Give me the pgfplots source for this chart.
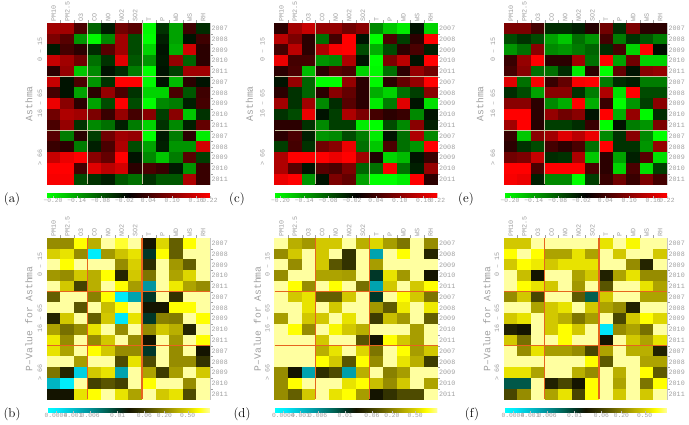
\documentclass[border=0pt]{standalone}
\usepackage{fontspec}
\usepackage{pgfplots}
\usepackage{pgfplotstable}
\pgfplotsset{compat=1.18}
\newfontfamily\monofont{Liberation Mono}
\definecolor{labgray}{RGB}{160,160,160}
\definecolor{sepA}{RGB}{200,195,160}
\definecolor{sepB}{RGB}{230,100,30}
\newcommand\tickfont{\monofont\fontsize{6.7}{7}\selectfont}
\newcommand\cbfont{\monofont\fontsize{6.3}{7}\selectfont}
\newcommand\ttlfont{\monofont\fontsize{9.7}{11}\selectfont}
\newcommand\panfont{\fontsize{13}{15}\selectfont}

\pgfdeclareplotmark{cell}{\pgfpathrectangle{\pgfpoint{-6.95pt}{-5.5pt}}{\pgfpoint{13.9pt}{11pt}}\pgfusepathqfill}

% correlation coefficients (rows: 0-15, 16-65, >66 groups x 2007..2011)
\pgfplotstableread{
PM10 PM25 O3 CO NO NO2 SO2 T P WD WS RH
0.12 0.12 0.05 -0.09 -0.03 0.08 0.06 -0.21 -0.05 -0.14 0.04 -0.045
0.09 0.06 -0.13 -0.21 -0.12 0.12 -0.07 -0.22 -0.035 -0.14 -0.025 0.04
-0.03 0.045 0.025 -0.045 0.06 0.12 -0.07 -0.18 -0.025 -0.15 0.16 0.025
0.15 0.12 0.08 -0.10 -0.05 0.17 -0.08 -0.13 -0.03 0.11 -0.09 0.025
0.025 0.11 -0.17 -0.12 -0.025 -0.045 -0.11 -0.23 -0.025 -0.06 0.12 0.12
0.15 -0.025 0.05 -0.13 -0.05 0.2 0.22 -0.21 -0.025 -0.16 0.025 -0.025
0.045 -0.025 -0.14 0.025 0.11 0.05 -0.05 -0.18 -0.18 0.05 -0.08 0.04
0.18 0.1 0.025 -0.14 -0.07 0.2 -0.07 -0.22 -0.12 -0.11 -0.035 0.045
0.08 0.13 0.12 0.09 0.035 0.11 0.045 0.1 -0.06 0.1 -0.17 -0.05
0.05 0.11 -0.05 -0.12 -0.1 -0.035 -0.11 -0.18 -0.05 -0.12 -0.035 0.07
0.06 -0.11 0.025 -0.06 0.08 0.12 0.11 -0.22 -0.03 -0.11 0.025 -0.2
0.035 0.025 -0.11 -0.035 0.05 0.13 -0.07 -0.14 -0.035 -0.13 -0.13 0.16
0.15 0.18 0.2 0.1 0.07 0.21 -0.025 -0.12 -0.17 -0.11 0.06 -0.06
0.23 0.21 0.045 0.17 0.14 0.16 0.025 0.05 0.035 -0.03 -0.13 0.035
0.19 0.19 -0.07 -0.05 -0.035 -0.08 -0.1 -0.05 -0.08 -0.08 0.13 0.035
}\dataA
\pgfplotstableread{
PM10 PM25 O3 CO NO NO2 SO2 T P WD WS RH
0.025 0.12 0.15 0.11 0.11 0.08 0.1 -0.12 -0.17 -0.2 -0.025 -0.18
0.14 0.09 0.025 -0.1 0.045 0.21 -0.025 -0.22 0.05 -0.06 0.025 0.21
0.045 0.14 0.025 0.13 0.19 0.21 -0.07 -0.15 -0.07 0.025 0.05 -0.035
0.18 0.045 0.045 -0.13 -0.12 0.13 -0.025 -0.22 0.09 0.14 -0.025 0.22
0.025 0.05 -0.16 0.025 0.06 0.05 -0.18 -0.21 -0.1 0.025 0.11 0.08
-0.025 0.11 -0.09 -0.23 -0.23 0.11 0.025 -0.21 0.025 0.07 0.11 0.21
0.025 -0.05 -0.09 0.025 0.1 0.07 0.025 -0.15 -0.18 -0.1 -0.06 0.1
0.12 -0.05 0.12 -0.12 -0.045 0.06 0.025 -0.2 -0.11 0.17 -0.025 -0.19
-0.05 -0.07 0.18 -0.025 -0.06 0.13 0.09 0.045 0.025 0.035 -0.12 -0.025
0.025 0.025 -0.05 -0.12 -0.06 -0.06 -0.2 -0.23 -0.07 -0.12 0.1 -0.035
0.025 0.05 -0.035 -0.13 -0.12 -0.07 -0.11 -0.2 -0.025 -0.1 0.13 -0.12
-0.06 0.045 -0.05 0.08 0.1 0.18 -0.1 -0.17 0.05 -0.1 -0.13 0.21
0.13 0.22 0.22 0.23 0.18 0.22 0.12 0.015 -0.18 -0.16 -0.025 0.035
0.13 0.06 -0.025 0.06 0.05 0.09 -0.09 -0.1 0.19 -0.1 -0.035 0.11
0.18 0.2 -0.13 -0.025 0.09 0.07 -0.14 -0.23 -0.22 -0.2 0.21 0.025
}\dataC
\pgfplotstableread{
PM10 PM25 O3 CO NO NO2 SO2 T P WD WS RH
0.09 0.09 0.045 -0.045 -0.045 -0.035 0.02 0.08 -0.045 0.09 0.025 0.025
-0.07 -0.05 -0.07 -0.14 -0.17 -0.1 -0.13 0.045 -0.11 -0.05 -0.08 -0.11
-0.13 -0.1 0.1 -0.12 -0.13 -0.11 -0.09 -0.045 0.045 -0.18 0.22 -0.02
0.035 0.11 0.22 0.025 0.025 0.12 -0.1 0.22 -0.14 0.08 -0.18 -0.18
0.045 0.1 -0.1 -0.1 -0.045 -0.2 0.025 -0.23 0.07 -0.025 0.1 0.11
0.17 -0.1 0.19 0.035 0.07 0.19 0.22 -0.11 -0.045 -0.035 -0.11 -0.11
-0.045 -0.07 -0.14 0.1 0.1 -0.05 -0.11 0.13 -0.19 0.22 -0.07 -0.07
0.1 0.1 0.025 -0.12 -0.15 0.21 -0.15 0.035 -0.23 -0.13 -0.06 0.1
0.23 0.23 0.025 0.11 0.08 0.1 -0.025 0.22 -0.15 0.11 -0.21 -0.045
0.12 0.2 0.02 -0.06 -0.06 -0.045 0.035 -0.23 -0.025 -0.11 -0.13 0.09
0.035 -0.17 0.1 0.12 0.17 0.14 0.18 -0.12 -0.05 0.1 -0.12 -0.23
0.025 -0.05 -0.07 0.045 0.025 0.05 -0.1 0.21 -0.05 -0.05 -0.13 0.11
0.08 0.09 0.15 -0.045 -0.05 0.13 -0.17 0.025 -0.14 -0.035 0.06 -0.19
0.22 0.22 0.05 0.23 0.22 0.21 0.05 0.025 -0.18 0.05 -0.19 -0.06
0.19 0.18 -0.035 -0.12 -0.12 -0.23 -0.06 0.035 0.08 0.035 0.09 0.045
}\dataE
% p-value colour levels (position on the p-value colour scale, 0 = cyan, 1 = pale yellow)
\pgfplotstableread{
PM10 PM25 O3 CO NO NO2 SO2 T P WD WS RH
0.74 0.74 0.93 0.8 1 0.95 1 0.5 0.87 0.66 0.93 1
0.86 0.89 0.74 0.05 0.76 0.84 0.89 0.43 0.93 0.66 1 1
1 0.93 1 1 1 0.74 0.86 0.56 1 0.76 0.66 1
0.76 0.74 0.85 0.8 0.93 0.54 0.85 0.7 1 0.78 0.87 1
1 0.85 0.6 0.8 1 0.93 0.77 0.25 1 0.9 0.78 0.74
0.66 1 1 0.72 0.93 0.06 0.22 0.43 1 0.57 1 1
1 1 0.64 1 0.83 0.93 1 0.5 0.5 0.93 0.93 1
0.54 0.85 1 0.66 0.85 0.07 0.89 0.43 0.72 0.71 1 0.93
0.78 0.69 0.74 0.89 1 0.74 1 0.74 0.85 0.8 0.54 1
0.9 0.74 1 0.74 0.85 1 0.74 0.5 1 0.76 1 0.93
0.89 0.78 1 0.93 0.85 0.74 0.74 0.43 1 0.74 1 0.5
1 1 0.77 1 1 0.62 0.89 0.62 1 0.74 0.74 0.57
0.7 0.54 0.12 0.85 0.89 0.22 1 0.78 0.59 0.77 1 0.85
0.18 0.05 1 0.6 0.64 0.6 1 0.93 1 1 0.74 1
0.5 0.5 0.89 0.93 1 0.89 0.78 1 0.85 0.89 0.62 1
}\dataB
\pgfplotstableread{
PM10 PM25 O3 CO NO NO2 SO2 T P WD WS RH
1 0.8 0.76 0.85 0.85 1 0.8 0.87 0.77 0.7 1 0.74
0.74 0.85 1 0.85 1 0.57 1 0.22 1 0.93 1 0.54
1 0.74 1 0.85 0.64 0.57 1 0.77 1 1 1 1
0.74 1 1 0.78 0.78 0.77 1 0.43 0.89 0.76 1 0.5
1 0.93 0.74 1 0.93 1 0.69 0.22 0.85 1 0.85 0.93
1 0.85 0.89 0.66 0.66 0.85 1 0.43 1 0.93 0.85 0.7
1 1 0.89 1 0.85 1 1 0.76 0.65 0.9 1 0.9
0.77 1 0.85 0.85 1 0.89 1 0.59 0.83 0.76 1 0.66
1 0.93 0.74 1 0.92 0.85 0.8 1 1 1 0.77 1
1 1 1 0.85 1 1 0.64 0.5 0.93 0.85 0.77 1
1 1 1 0.8 0.89 1 0.87 0.7 1 0.93 0.77 0.85
1 1 1 0.93 0.85 0.64 0.93 0.74 1 0.89 0.8 0.59
0.74 0.5 0.22 0.56 0.62 0.23 0.8 1 0.72 0.77 1 1
0.74 0.93 1 1 1 0.89 0.93 0.83 0.74 0.85 1 0.78
0.74 0.66 0.85 1 0.89 0.93 0.77 0.5 0.57 0.62 0.62 1
}\dataD
\pgfplotstableread{
PM10 PM25 O3 CO NO NO2 SO2 T P WD WS RH
0.85 0.85 1 1 1 1 1 0.89 1 0.92 1 1
0.93 1 0.93 0.78 0.78 0.89 0.78 1 0.85 1 1 0.85
0.85 0.93 0.9 0.85 0.89 0.89 0.89 1 1 0.74 0.54 1
1 0.83 0.5 1 1 0.78 0.85 0.53 0.78 0.89 0.74 0.74
1 0.93 0.89 0.85 1 0.76 1 0.64 1 1 0.89 0.78
0.74 0.85 0.61 1 1 0.65 0.37 0.85 1 1 0.78 0.78
1 1 0.78 0.85 0.89 1 0.85 0.78 0.74 0.53 1 1
0.85 0.89 1 0.85 0.8 0.7 0.77 1 0.61 0.85 0.93 0.87
0.53 0.5 1 0.85 0.93 0.85 1 0.07 0.74 0.78 0.69 1
0.85 0.69 1 1 0.93 1 1 0.5 1 0.85 0.78 0.89
1 0.74 0.89 0.77 0.77 0.74 0.61 0.78 1 0.8 0.8 0.53
1 1 1 1 1 1 0.93 0.65 1 1 0.78 0.78
0.89 0.89 0.78 1 1 0.8 0.74 1 0.8 1 0.93 0.65
0.38 0.38 1 0.53 0.61 0.5 0.93 1 0.78 1 0.7 0.93
0.61 0.74 1 0.78 0.89 0.61 0.93 1 0.85 1 0.85 1
}\dataF

\pgfplotsset{
  colormap={rg}{rgb255=(0,255,0) rgb255=(0,0,0) rgb255=(255,0,0)},
  colormap={pv}{rgb255(0cm)=(0,255,255) rgb255(7cm)=(0,230,250) rgb255(16cm)=(0,190,205)
     rgb255(25cm)=(0,150,160) rgb255(37cm)=(0,95,80) rgb255(43cm)=(0,55,40) rgb255(50cm)=(20,20,0)
     rgb255(57cm)=(50,50,0) rgb255(66cm)=(100,95,0) rgb255(74cm)=(150,140,0) rgb255(80cm)=(185,175,0)
     rgb255(85cm)=(210,200,0) rgb255(93cm)=(255,255,0) rgb255(100cm)=(255,255,160)},
  heat/.style={
    anchor=north west,
    scale only axis, width=163pt, height=161.5pt,
    xmin=-0.5, xmax=11.5, ymin=-0.5, ymax=14.5, y dir=reverse,
    clip=false,
    axis line style={draw=labgray!60, line width=0.3pt},
    xtick={0,...,11}, xticklabels={PM10,PM2.5,O3,CO,NO,NO2,SO2,T,P,WD,WS,RH},
    ytick={0,...,14},
    yticklabels={2007,2008,2009,2010,2011,2007,2008,2009,2010,2011,2007,2008,2009,2010,2011},
    xticklabel pos=right, yticklabel pos=right,
    xtick pos=right, ytick pos=right,
    major tick length=0pt,
    minor xtick={0.5,1.5,...,10.5}, minor ytick={0.5,1.5,...,13.5},
    minor tick length=2.5pt, tick align=outside,
    every tick/.style={draw=labgray, line width=0.3pt},
    xticklabel style={rotate=90, anchor=west, font=\tickfont, text=labgray, inner sep=1.5pt},
    yticklabel style={anchor=west, font=\tickfont, text=labgray, inner sep=1.5pt},
    point meta=explicit,
  },
  cellplot/.style={scatter, only marks, mark=cell,
    scatter/use mapped color={draw=none, fill=mapped color}},
  cbcommon/.style={
    at={(parent axis.south west)}, anchor=north west,
    scale only axis, width=163pt, height=4.5pt,
    y dir=normal, xticklabel pos=left, xtick pos=left,
    minor xtick={}, minor ytick={}, ytick=\empty,
    xticklabel style={rotate=0, anchor=north, font=\cbfont, text=labgray, inner sep=1pt},
    major tick length=1.5pt, tick align=inside,
    axis line style={draw=none},
    every tick/.style={draw=labgray!70, line width=0.3pt},
  },
  corr/.style={
    heat, colormap name=rg, point meta min=-0.215, point meta max=0.195,
    colorbar horizontal,
    colorbar style={cbcommon,
      xtick={-0.20,-0.14,-0.08,-0.02,0.04,0.10,0.16,0.195},
      xticklabels={−0.20,−0.14,−0.08,−0.02,0.04,0.10,0.16,0.22}},
  },
  pval/.style={
    heat, colormap name=pv, point meta min=0, point meta max=1,
    colorbar horizontal,
    colorbar style={cbcommon,
      xtick={0.055,0.16,0.265,0.433,0.597,0.72,0.863},
      xticklabels={0.0004,0.001,0.006,0.01,0.06,0.20,0.50}},
  },
}

\newcommand\cells[1]{%
  \pgfplotsinvokeforeach{0,...,11}{%
    \addplot[cellplot] table[x expr=##1, y expr=\coordindex, meta index=##1] {#1};}}
% corner points of the group separators, drawn after the axis (on top of the cells)
\newcommand\sepcoords[1]{%
  \coordinate (#1v1a) at (axis cs:2.5,-0.5);  \coordinate (#1v1b) at (axis cs:2.5,14.5);
  \coordinate (#1v2a) at (axis cs:6.5,-0.5);  \coordinate (#1v2b) at (axis cs:6.5,14.5);
  \coordinate (#1h1a) at (axis cs:-0.5,4.5);  \coordinate (#1h1b) at (axis cs:11.5,4.5);
  \coordinate (#1h2a) at (axis cs:-0.5,9.5);  \coordinate (#1h2b) at (axis cs:11.5,9.5);}
\newcommand\seps[3]{%
  \draw[#2, line width=#3] (#1v1a) -- (#1v1b);
  \draw[#2, line width=#3] (#1v2a) -- (#1v2b);
  \draw[#2, line width=#3] (#1h1a) -- (#1h1b);
  \draw[#2, line width=#3] (#1h2a) -- (#1h2b);}
\newcommand\grouplabels[3]{%
  \node[rotate=90, font=\tickfont, text=labgray] at ([xshift=-#1]axis cs:-0.5,2) {0 – 15};
  \node[rotate=90, font=\tickfont, text=labgray] at ([xshift=-#1]axis cs:-0.5,7) {16 – 65};
  \node[rotate=90, font=\tickfont, text=labgray] at ([xshift=-#1]axis cs:-0.5,12) {> 66};
  \node[rotate=90, font=\ttlfont, text=labgray] at ([xshift=-#2]axis cs:-0.5,7) {#3};}

\begin{document}
\begin{tikzpicture}[x=1pt,y=1pt]
\useasboundingbox (0,0) rectangle (689,425);

\begin{axis}[corr, at={(47pt,402pt)}]
  \cells{\dataA}
  \sepcoords{A}
  \grouplabels{7pt}{18pt}{Asthma}
\end{axis}
\seps{A}{sepA}{0.8pt}
\begin{axis}[corr, at={(274.5pt,402pt)}]
  \cells{\dataC}
  \sepcoords{C}
  \grouplabels{12pt}{25pt}{Asthma}
\end{axis}
\seps{C}{sepA}{0.8pt}
\begin{axis}[corr, at={(504pt,402pt)}]
  \cells{\dataE}
  \sepcoords{E}
  \grouplabels{11pt}{24pt}{Asthma}
\end{axis}
\seps{E}{sepA}{0.8pt}

\begin{axis}[pval, at={(47pt,187pt)}]
  \cells{\dataB}
  \sepcoords{B}
  \grouplabels{7pt}{18pt}{P–Value for Asthma}
\end{axis}
\seps{B}{sepB}{1.2pt}
\begin{axis}[pval, at={(274.5pt,187pt)}]
  \cells{\dataD}
  \sepcoords{D}
  \grouplabels{7pt}{17pt}{P–Value for Asthma}
\end{axis}
\seps{D}{sepB}{1.2pt}
\begin{axis}[pval, at={(504pt,187pt)}]
  \cells{\dataF}
  \sepcoords{F}
  \grouplabels{7pt}{17pt}{P–Value for Asthma}
\end{axis}
\seps{F}{sepB}{1.2pt}

\node[font=\panfont] at (12,225.5) {(a)};
\node[font=\panfont] at (237,225.5) {(c)};
\node[font=\panfont] at (466,225.5) {(e)};
\node[font=\panfont] at (12,11) {(b)};
\node[font=\panfont] at (242,11) {(d)};
\node[font=\panfont] at (472,11) {(f)};
\end{tikzpicture}
\end{document}
